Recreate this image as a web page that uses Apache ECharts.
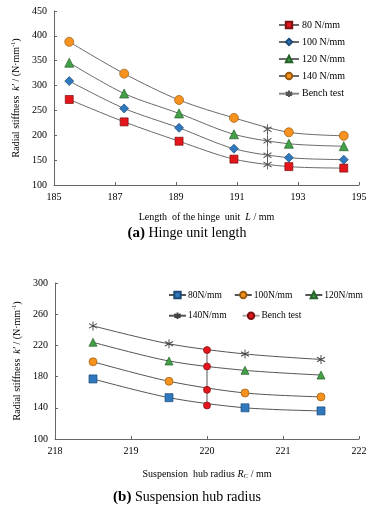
<!DOCTYPE html>
<html><head><meta charset="utf-8">
<script src="https://cdn.jsdelivr.net/npm/echarts@6/dist/echarts.min.js"></script>
<style>html,body{margin:0;padding:0;background:#fff}#c{width:374px;height:508px}</style>
</head><body><div id="c"></div>
<script>
// ---- data: (a) hinge unit length ----
const topX = [185.5, 187.3, 189.1, 190.9, 192.7, 194.5];
const top80 = [272, 227, 188, 152, 137, 134];
const top100 = [309, 254, 215, 173, 155, 151];
const top120 = [346, 284, 244, 202, 183, 178];
const top140 = [388, 324, 271, 235, 206, 199];
const topBenchX = 192;
const topBench = [141, 160, 189, 212];
const topNames = ['80 N/mm', '100 N/mm', '120 N/mm', '140 N/mm', 'Bench test'];
// ---- data: (b) suspension hub radius ----
const botX = [218.5, 219.5, 220.5, 221.5];
const bot80 = [177, 153, 140, 136];
const bot100 = [199, 174, 159, 154];
const bot120 = [224, 200, 188, 182];
const bot140 = [245, 222, 209, 202];
const botBenchX = 220;
const botBench = [143, 163, 193, 214];
const botNames = ['80N/mm', '100N/mm', '120N/mm', '140N/mm', 'Bench test '];

const FONT = '"Liberation Serif","Times New Roman",serif';
const star = 'path://M5,0L5,10M0.7,2.5L9.3,7.5M9.3,2.5L0.7,7.5';
const zip = (xs, ys) => xs.map((x, i) => [x, ys[i]]);

function ln(name, xi, data, symbol, size, fill, border, lineColor) {
  return {
    name, type: 'line', xAxisIndex: xi, yAxisIndex: xi, data,
    smooth: 0.3, symbol, symbolSize: size, showSymbol: true,
    lineStyle: { color: lineColor || '#6a6a6a', width: 1 },
    itemStyle: { color: fill, borderColor: border, borderWidth: symbol === star ? 1 : 0.7 },
    emphasis: { disabled: true }, z: 3
  };
}

const axisCommon = {
  axisLine: { lineStyle: { color: '#666', width: 1 } },
  axisTick: { inside: true, length: 3, lineStyle: { color: '#666' } },
  axisLabel: { color: '#000', fontFamily: FONT, fontSize: 10 },
  splitLine: { show: false }
};
const nameStyle = {
  color: '#000', fontFamily: FONT, fontSize: 10,
  rich: {
    a: { fontFamily: FONT, fontSize: 10, color: '#000' },
    i: { fontFamily: FONT, fontSize: 10, fontStyle: 'italic', color: '#000' },
    sup: { fontFamily: FONT, fontSize: 6, color: '#000', verticalAlign: 'top', lineHeight: 12 },
    sub: { fontFamily: FONT, fontSize: 7, fontStyle: 'italic', color: '#000', verticalAlign: 'bottom', lineHeight: 12 }
  }
};
const yName = '{a|Radial stiffness  }{i|k′}{a| / (N·mm}{sup|-1}{a|)}';
const legTextTop = { fontFamily: FONT, fontSize: 10, color: '#000', padding: [0, 0, 0, -2] };
const legTextBot = { fontFamily: FONT, fontSize: 9.5, color: '#000', padding: [0, 0, 0, -3] };

const chart = echarts.init(document.getElementById('c'), null, { renderer: 'canvas' });
chart.setOption({
  animation: false,
  backgroundColor: '#fff',
  grid: [
    { left: 54, top: 11, width: 305, height: 174 },
    { left: 55, top: 283, width: 304, height: 156 }
  ],
  xAxis: [
    Object.assign({}, axisCommon, { gridIndex: 0, type: 'value', min: 185, max: 195, interval: 2,
      name: '{a|Length  of the hinge  unit  }{i|L}{a| / mm}', nameLocation: 'middle', nameGap: 27, nameTextStyle: nameStyle,
      axisLabel: Object.assign({}, axisCommon.axisLabel, { margin: 7 }) }),
    Object.assign({}, axisCommon, { gridIndex: 1, type: 'value', min: 218, max: 222, interval: 1,
      name: '{a|Suspension  hub radius }{i|R}{sub|C}{a| / mm}', nameLocation: 'middle', nameGap: 29, nameTextStyle: nameStyle,
      axisLabel: Object.assign({}, axisCommon.axisLabel, { margin: 7 }) })
  ],
  yAxis: [
    Object.assign({}, axisCommon, { gridIndex: 0, type: 'value', min: 100, max: 450, interval: 50,
      name: yName, nameLocation: 'middle', nameGap: 32, nameTextStyle: nameStyle,
      axisLabel: Object.assign({}, axisCommon.axisLabel, { margin: 7 }) }),
    Object.assign({}, axisCommon, { gridIndex: 1, type: 'value', min: 100, max: 300, interval: 40,
      name: yName, nameLocation: 'middle', nameGap: 32, nameTextStyle: nameStyle,
      axisLabel: Object.assign({}, axisCommon.axisLabel, { margin: 7 }) })
  ],
  legend: [
    { data: topNames, orient: 'vertical', left: 273, top: 15, itemWidth: 20, itemHeight: 8, itemGap: 7,
      textStyle: legTextTop, selectedMode: false },
    { data: botNames.slice(0, 3), orient: 'horizontal', left: 163, top: 285, width: 211, itemWidth: 17, itemHeight: 8, itemGap: 12,
      textStyle: legTextBot, selectedMode: false },
    { data: botNames.slice(3), orient: 'horizontal', left: 163, top: 305, itemWidth: 17, itemHeight: 8, itemGap: 15,
      textStyle: legTextBot, selectedMode: false }
  ],
  graphic: [
    { type: 'text', left: 'center', top: 226, style: {
      text: '{b|(a)} {n|Hinge unit length}', font: '14px ' + FONT, fill: '#000',
      rich: { b: { fontFamily: FONT, fontSize: 15, fontWeight: 'bold', fill: '#000' }, n: { fontFamily: FONT, fontSize: 14, fill: '#000' } } } },
    { type: 'text', left: 'center', top: 490, style: {
      text: '{b|(b)} {n|Suspension hub radius}', font: '14px ' + FONT, fill: '#000',
      rich: { b: { fontFamily: FONT, fontSize: 15, fontWeight: 'bold', fill: '#000' }, n: { fontFamily: FONT, fontSize: 14, fill: '#000' } } } }
  ],
  series: [
    ln(topNames[0], 0, zip(topX, top80), 'rect', 8, '#e4161c', '#7a1010'),
    ln(topNames[1], 0, zip(topX, top100), 'diamond', 9, '#2f78bd', '#1b4a78'),
    ln(topNames[2], 0, zip(topX, top120), 'triangle', 9, '#43a047', '#25622a'),
    ln(topNames[3], 0, zip(topX, top140), 'circle', 9, '#f7921e', '#9a5a10'),
    Object.assign(ln(topNames[4], 0, topBench.map(v => [topBenchX, v]), star, [8, 10], 'none', '#555', '#888'), { smooth: false, z: 4 }),
    ln(botNames[0], 1, zip(botX, bot80), 'rect', 8, '#2f78bd', '#1b4a78', '#555'),
    ln(botNames[1], 1, zip(botX, bot100), 'circle', 8, '#f7921e', '#9a5a10', '#555'),
    ln(botNames[2], 1, zip(botX, bot120), 'triangle', 8, '#43a047', '#25622a', '#555'),
    ln(botNames[3], 1, zip(botX, bot140), star, [8, 9], 'none', '#444', '#555'),
    Object.assign(ln(botNames[4], 1, botBench.map(v => [botBenchX, v]), 'circle', 7, '#e4161c', '#7a1010', '#aaa'),
      { smooth: false, z: 4, lineStyle: { color: '#aaa', width: 2 } })
  ]
});
</script></body></html>
